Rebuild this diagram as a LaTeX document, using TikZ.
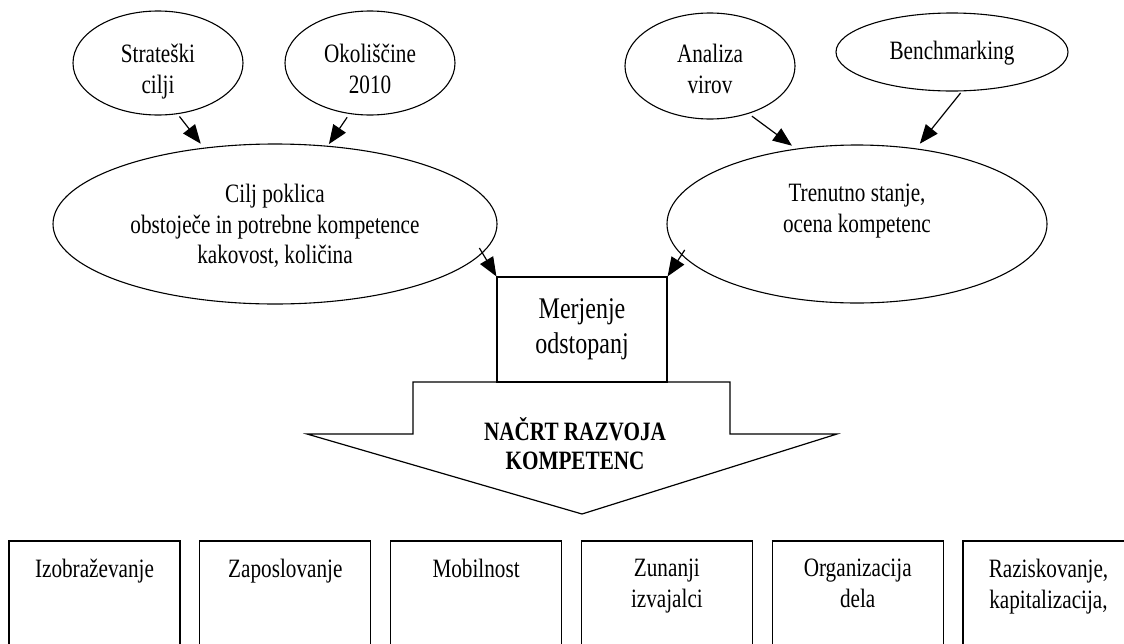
\documentclass[tikz,border=0pt]{standalone}
\usepackage{fontspec}
\setmainfont{Liberation Serif}[FakeStretch=0.8]
\usetikzlibrary{arrows.meta,shapes.geometric}

\begin{document}
\begin{tikzpicture}[x=1pt, y=-1pt, >={Triangle[length=19pt,width=15pt]},
    ell/.style={draw, ellipse, line width=1.1pt, inner sep=0pt},
    txt/.style={anchor=north, inner sep=0pt, align=center, font=\fontsize{26.5}{30.5}\selectfont},
    link/.style={->, line width=1.2pt},
    outbox/.style={draw, line width=1.2pt, anchor=north, minimum width=171pt, minimum height=140pt, inner sep=0pt}]
    \useasboundingbox (0,0) rectangle (1124,643);
    \fill[white] (0,0) rectangle (1124,643);
    \clip (0,0) rectangle (1124,643);
    % elipse
    \node[ell, minimum width=170pt, minimum height=104pt] (strat) at (158,63) {};
    \node[ell, minimum width=170pt, minimum height=104pt] (okol) at (370,63) {};
    \node[ell, minimum width=170pt, minimum height=106pt] (anal) at (710,66) {};
    \node[ell, minimum width=232pt, minimum height=78pt] (bench) at (952,52) {};
    \node[ell, minimum width=444pt, minimum height=160pt] (cilj) at (275,224) {};
    \node[ell, minimum width=380pt, minimum height=158pt] (stanje) at (857,224) {};
    \node[txt] (stratT) at (158,44) {Strateški\\cilji};
    \node[txt] (okolT) at (370,44) {Okoliščine\\2010};
    \node[txt] (analT) at (710,44) {Analiza\\virov};
    \node[txt] (benchT) at (952,41) {Benchmarking};
    \node[txt] (ciljT) at (275,184) {Cilj poklica\\obstoječe in potrebne kompetence\\kakovost, količina};
    \node[txt] (stanjeT) at (857,184) {Trenutno stanje,\\ocena kompetenc};
    % merjenje in puscica
    \draw[line width=1.2pt] (413,382) -- (730,382) -- (730,434) -- (837,434) -- (582,514)
        -- (307,434) -- (413,434) -- cycle;
    \node[draw, line width=1.2pt, minimum width=170pt, minimum height=105pt, inner sep=0pt] (merj) at (582,329.5) {};
    \node[txt, font=\fontsize{30}{35}\selectfont] (merjT) at (582,298) {Merjenje\\odstopanj};
    \node[txt, font=\fontsize{26.5}{29}\selectfont\bfseries] (nacrt) at (575,417) {NAČRT RAZVOJA\\KOMPETENC};
    \draw[link, shorten <=3pt, shorten >=5pt] (strat.-69) -- (cilj.133);
    \draw[link, shorten <=4pt, shorten >=2pt] (okol.-112) -- (cilj.56);
    \draw[link, shorten <=4pt, shorten >=5pt] (anal.-51) -- (stanje.129);
    \draw[link, shorten <=2pt, shorten >=6pt] (bench.-76) -- (stanje.52);
    \draw[link, shorten <=-6pt] (cilj.-8.8) -- (merj.north west);
    \draw[link, shorten <=-6pt] (stanje.190.5) -- (merj.north east);
    % ukrepi
    \foreach \i/\lbl in {0/Izobraževanje, 1/Zaposlovanje, 2/Mobilnost, 3/{Zunanji\\izvajalci},
        4/{Organizacija\\dela}, 5/{Raziskovanje,\\kapitalizacija,}}{
        \node[outbox] (b\i) at (94.5+190.8*\i,541) {};
        \draw[line width=2pt] (b\i.north west) -- (b\i.north east);
        \node[txt] (t\i) at (94.5+190.8*\i,559) {\lbl};
    }
\end{tikzpicture}
\end{document}
